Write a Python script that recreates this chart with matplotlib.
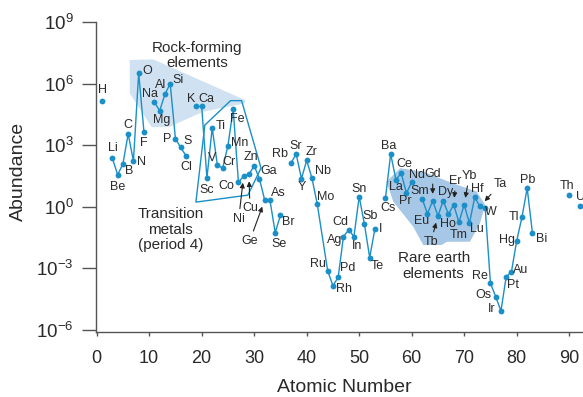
import numpy as np
import matplotlib
matplotlib.use('Agg')
import matplotlib.pyplot as plt
from matplotlib.patches import Polygon

plt.rcParams['font.family'] = ['Liberation Sans', 'DejaVu Sans']
plt.rcParams['mathtext.fontset'] = 'custom'
plt.rcParams['mathtext.rm'] = 'Liberation Sans'
plt.rcParams['mathtext.it'] = 'Liberation Sans:italic'
plt.rcParams['mathtext.bf'] = 'Liberation Sans:bold'
plt.rcParams['mathtext.default'] = 'regular'

# ---------------- data ----------------
symbols = ["H", "Li", "Be", "B", "C", "N", "O", "F",
           "Na", "Mg", "Al", "Si", "P", "S", "Cl",
           "K", "Ca", "Sc", "Ti", "V", "Cr", "Mn", "Fe", "Co", "Ni", "Cu", "Zn",
           "Ga", "Ge", "As", "Se", "Br",
           "Rb", "Sr", "Y", "Zr", "Nb", "Mo", "Ru", "Rh", "Pd", "Ag", "Cd", "In",
           "Sn", "Sb", "Te", "I",
           "Cs", "Ba", "La", "Ce", "Pr", "Nd", "Sm", "Eu", "Gd", "Tb", "Dy", "Ho",
           "Er", "Tm", "Yb", "Lu", "Hf", "Ta", "W", "Re", "Os", "Ir", "Pt", "Au",
           "Hg", "Tl", "Pb", "Bi", "Th", "U"]
atomic_numbers = [1, 3, 4, 5, 6, 7, 8, 9,
                  11, 12, 13, 14, 15, 16, 17,
                  19, 20, 21, 22, 23, 24, 25, 26, 27, 28, 29, 30,
                  31, 32, 33, 34, 35,
                  37, 38, 39, 40, 41, 42, 44, 45, 46, 47, 48, 49,
                  50, 51, 52, 53,
                  55, 56, 57, 58, 59, 60, 62, 63, 64, 65, 66, 67,
                  68, 69, 70, 71, 72, 73, 74, 75, 76, 77, 78, 79,
                  80, 81, 82, 83, 90, 92]
log_abundance = [5.14, 2.36, 1.56, 2.10, 3.55, 2.23, 6.52, 3.66,
                 5.09, 4.68, 5.48, 6.00, 3.32, 2.89, 2.49,
                 4.89, 4.89, 1.40, 3.84, 2.02, 1.89, 2.98, 4.76, 1.19, 1.51, 1.58, 2.00,
                 1.37, 0.33, 0.33, -1.25, -0.42,
                 2.13, 2.57, 1.37, 2.26, 1.40, 0.15, -3.12, -3.84, -3.43, -1.45, -1.12, -1.45,
                 0.50, -0.85, -2.47, -1.06,
                 0.42, 2.57, 1.32, 1.64, 0.67, 1.20, 0.39, -0.34, 0.29, -0.44, 0.29, -0.36,
                 0.10, -0.75, 0.10, -0.80, 0.46, 0.02, -0.05, -3.72, -4.37, -5.07, -3.40, -3.16,
                 -1.66, -0.50, 0.91, -1.28, 0.59, 0.05]

# connected runs of the line
chains = [["Li", "Be", "B", "C", "N", "O", "F"],
          ["Na", "Mg", "Al", "Si", "P", "S", "Cl"],
          ["K", "Ca", "Sc", "Ti", "V", "Cr", "Mn", "Fe", "Co", "Ni", "Cu", "Zn",
           "Ga", "Ge", "As", "Se", "Br"],
          ["Rb", "Sr", "Y", "Zr", "Nb", "Mo", "Ru", "Rh", "Pd", "Ag", "Cd", "In",
           "Sn", "Sb", "Te", "I"],
          ["Cs", "Ba", "La", "Ce", "Pr", "Nd"],
          ["Sm", "Eu", "Gd", "Tb", "Dy", "Ho", "Er", "Tm", "Yb", "Lu", "Hf", "Ta",
           "W", "Re", "Os", "Ir", "Pt", "Au", "Hg", "Tl", "Pb", "Bi"]]

# group outlines (atomic number, log10 abundance)
rock_forming_region = [(6.3, 7.15), (10.8, 7.18), (28.25, 5.20), (28.25, 5.04),
                       (20.3, 4.63), (13.9, 3.90), (10.5, 3.87), (6.3, 5.53)]
transition_region = [(18.9, 0.23), (20.6, 3.98), (25.5, 5.17), (27.6, 5.17),
                     (31.3, 1.89), (28.8, 0.57)]
rare_earth_region = [(55.2, 1.22), (57.8, 1.88), (62.2, 1.71), (67.9, 1.14),
                     (72.4, 0.74), (74.0, 0.09), (73.0, -0.80), (71.1, -1.70),
                     (66.7, -1.70), (65.7, -1.86), (62.2, -1.86), (60.3, -0.97),
                     (56.5, 0.25)]

x_ticks = [0, 10, 20, 30, 40, 50, 60, 70, 80, 90]
y_tick_exponents = [-6, -3, 0, 3, 6, 9]
y_tick_labels = ["$10^{-6}$", "$10^{-3}$", "$10^{0}$", "$10^{3}$", "$10^{6}$", "$10^{9}$"]

# ---------------- styling ----------------
line_color = '#1a8fc8'
text_color = '#2a2a2a'

label_offsets = {
    "H": (1, 11), "Li": (0, 10), "Be": (0, -12), "B": (6, -7), "C": (0, 9),
    "N": (8, -1), "O": (9, 2), "F": (0, -11), "Na": (-4, 8), "Mg": (2, -9),
    "Al": (-4, 9), "Si": (8, 4), "P": (-8, 0), "S": (7, 6), "Cl": (0, -11),
    "K": (-5, 7), "Ca": (5, 7), "Sc": (0, -12), "Ti": (9, 2), "V": (-5, 7),
    "Cr": (6, 6), "Mn": (12, 3), "Fe": (4, -10), "Co": (-12, -4), "Zn": (-3, 9),
    "Ga": (9, 8), "As": (8, 7), "Se": (4, -11), "Br": (8, -7), "Rb": (-11, 9),
    "Sr": (0, 8), "Y": (0, -8), "Zr": (5, 8), "Nb": (11, 7), "Mo": (8, 7),
    "Ru": (-10, 7), "Rh": (11, -3), "Pd": (10, 9), "Ag": (-9, -3), "Cd": (-8, 8),
    "In": (3, -9), "Sn": (0, 8), "Sb": (6, 8), "Te": (8, -8), "I": (6, 0),
    "Cs": (3, -10), "Ba": (-2, 8), "La": (0, -7), "Ce": (3, 9), "Pr": (-1, -8),
    "Nd": (5, 7), "Sm": (-2, 8), "Eu": (-6, -7), "Dy": (2, 9), "Ho": (-1, -10),
    "Tm": (0, -13), "Lu": (7, -6), "Hf": (3, 8), "W": (6, -4), "Re": (-11, 7),
    "Os": (-12, 2), "Ir": (-9, 2), "Pt": (7, -8), "Au": (9, 2), "Hg": (-10, 1),
    "Tl": (-8, 0), "Pb": (0, 8), "Bi": (9, -6), "Th": (-2, 9), "U": (1, 9),
}
arrow_offsets = {
    "Ni": (-5, -43), "Cu": (1, -34), "Ge": (-15, -41), "Gd": (0, 27),
    "Tb": (-7, -26), "Er": (2, 24), "Yb": (5, 29), "Ta": (20, 22),
}

# ---------------- figure ----------------
W, H = 583, 397
fig = plt.figure(figsize=(W / 100, H / 100), dpi=100)
ax_left, ax_right, ax_top, ax_bottom = 96, 583, 22, 331.7
ax = fig.add_axes([ax_left / W, 1 - ax_bottom / H,
                   (ax_right - ax_left) / W, (ax_bottom - ax_top) / H])
ax.set_yscale('log')
ax.set_xlim(-0.13, 92.63)
ax.set_ylim(10 ** -6.08, 10 ** 9.0)

lookup = {s: (z, 10 ** v) for s, z, v in zip(symbols, atomic_numbers, log_abundance)}

def poly(verts, **kw):
    pts = [(x, 10 ** v) for x, v in verts]
    ax.add_patch(Polygon(pts, closed=True, **kw))

poly(rock_forming_region, facecolor='#d0e2f2', edgecolor='none', zorder=1)
poly(rare_earth_region, facecolor='#a6c7e6', edgecolor='none', zorder=1)
poly(transition_region, facecolor='none', edgecolor=line_color, lw=1.0, zorder=2)

for chain in chains:
    xs = [lookup[s][0] for s in chain]
    ys = [lookup[s][1] for s in chain]
    ax.plot(xs, ys, '-', color=line_color, lw=1.0, zorder=3)

ax.plot(atomic_numbers, [10 ** v for v in log_abundance], 'o', color=line_color,
        ms=4.2, mec='none', zorder=4, clip_on=False)

for s in symbols:
    z, y = lookup[s]
    if s in label_offsets:
        dx, dy = label_offsets[s]
        ax.annotate(s, (z, y), xytext=(dx, dy), textcoords='offset pixels',
                    ha='center', va='center', fontsize=9, color=text_color, zorder=5)
    elif s in arrow_offsets:
        dx, dy = arrow_offsets[s]
        ax.annotate(s, (z, y), xytext=(dx, dy), textcoords='offset pixels',
                    ha='center', va='center', fontsize=9, color=text_color, zorder=5,
                    arrowprops=dict(arrowstyle='-|>', color='#222222', lw=0.8,
                                    mutation_scale=7, shrinkA=1, shrinkB=5))

ax.text(19.1, 10 ** 7.37, "Rock-forming\nelements", ha='center', va='center',
        fontsize=11, color=text_color, linespacing=1.15)
ax.text(14.1, 10 ** -1.12, "Transition\nmetals\n(period 4)", ha='center', va='center',
        fontsize=11, color=text_color, linespacing=1.15)
ax.text(64.2, 10 ** -2.88, "Rare earth\nelements", ha='center', va='center',
        fontsize=11, color=text_color, linespacing=1.15)

# axes styling
for side in ['top', 'right']:
    ax.spines[side].set_visible(False)
for side in ['left', 'bottom']:
    ax.spines[side].set_color('#555555')
    ax.spines[side].set_linewidth(1.0)

ax.set_xticks(x_ticks)
ax.set_xticklabels([str(t) for t in x_ticks])
ax.set_yticks([10.0 ** e for e in y_tick_exponents])
ax.set_yticklabels(y_tick_labels)
ax.yaxis.set_minor_locator(matplotlib.ticker.NullLocator())
ax.tick_params(axis='y', length=10, width=1.0, color='#555555', labelsize=13.5,
               labelcolor=text_color, pad=6)
ax.tick_params(axis='x', length=3, width=1.0, color='#555555', labelsize=13,
               labelcolor=text_color, pad=10)

ax.set_xlabel("Atomic Number", fontsize=14, color=text_color)
ax.set_ylabel("Abundance", fontsize=14, color=text_color)
ax.xaxis.set_label_coords(0.509, -0.152)
ax.yaxis.set_label_coords(-0.142, 0.517)

fig.savefig('out.png', dpi=100)
